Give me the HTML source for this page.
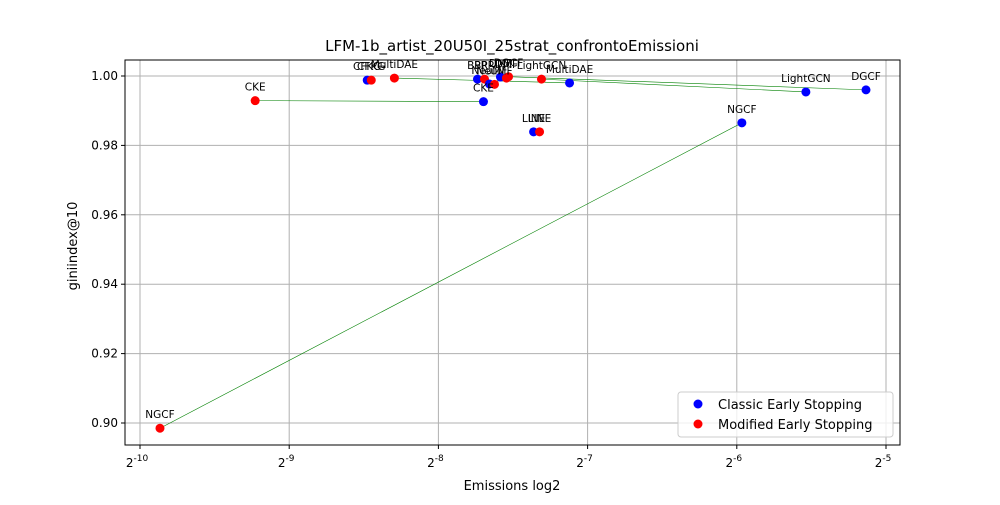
<!DOCTYPE html>
<html><head><meta charset="utf-8"><style>
body{margin:0;background:#fff;font-family:"Liberation Sans","DejaVu Sans",sans-serif;}
svg text{font-family:"DejaVu Sans","Liberation Sans",sans-serif;}
</style></head><body>
<svg id="chart" width="1000" height="500">
<rect width="1000" height="500" fill="#fff"/>
<text x="512" y="51" text-anchor="middle" font-size="15">LFM-1b_artist_20U50I_25strat_confrontoEmissioni</text>
<g id="grid"></g><g id="lines"></g><g id="pts"></g><g id="labels"></g><g id="ticks"></g>
<rect x="125" y="60" width="775" height="385" fill="none" stroke="#000" stroke-width="1"/>
<text x="512" y="490" text-anchor="middle" font-size="13">Emissions log2</text>
<text x="77" y="246" text-anchor="middle" font-size="13" transform="rotate(-90 77 246)">giniindex@10</text>
<g>
<rect x="678" y="392" width="215" height="45" rx="3" fill="#fff" fill-opacity="0.8" stroke="#ccc"/>
<g><circle cx="698" cy="404" r="4.5" fill="blue"/><text x="718" y="409" font-size="13">Classic Early Stopping</text></g>
<g><circle cx="698" cy="424" r="4.5" fill="red"/><text x="718" y="429" font-size="13">Modified Early Stopping</text></g>
</g>
</svg>
<script>
const models=["CFKG","CKE","LINE","MultiDAE","NGCF","LightGCN","DGCF","BPR","NeuMF","DMF"];
const classicX=[-8.477,-7.698,-7.362,-7.121,-5.966,-5.537,-5.134,-7.738,-7.658,-7.584];
const classicY=[0.9988,0.9926,0.9839,0.9980,0.9865,0.9954,0.9960,0.9991,0.9977,0.9997];
const modX=[-8.450,-9.228,-7.322,-8.295,-9.866,-7.309,-7.530,-7.691,-7.624,-7.544];
const modY=[0.9988,0.9929,0.9839,0.9994,0.8985,0.9991,0.9998,0.9991,0.9976,0.9994];
const xTicks=[-10,-9,-8,-7,-6,-5];
const yTicks=[0.90,0.92,0.94,0.96,0.98,1.00];
const NS="http://www.w3.org/2000/svg";
const sx=v=>140+(v+10)*149.2;
const sy=v=>76+(1-v)*3470;
function mk(p,t,a){const e=document.createElementNS(NS,t);for(const k in a)e.setAttribute(k,a[k]);document.getElementById(p).appendChild(e);return e;}
xTicks.forEach(t=>{
 const g=mk("grid","line",{x1:sx(t),x2:sx(t),y1:60,y2:445,stroke:"#b0b0b0","stroke-width":1});
 
 
 mk("ticks","line",{x1:sx(t),x2:sx(t),y1:445,y2:449,stroke:"#000"});
 const tx=mk("ticks","text",{x:sx(t)-3,y:467,"text-anchor":"middle","font-size":"12"});
 tx.innerHTML="2<tspan dy='-6' font-size='9'>"+t+"</tspan>";
 
 
});
yTicks.forEach(t=>{
 const g=mk("grid","line",{x1:125,x2:900,y1:sy(t),y2:sy(t),stroke:"#b0b0b0","stroke-width":1});
 
 
 mk("ticks","line",{x1:121,x2:125,y1:sy(t),y2:sy(t),stroke:"#000"});
 const tx=mk("ticks","text",{x:118,y:sy(t)+4,"text-anchor":"end","font-size":"12"});
 tx.textContent=t.toFixed(2);
 
 
});
models.forEach((m,i)=>{
 const l=mk("lines","line",{x1:sx(modX[i]),y1:sy(modY[i]),x2:sx(classicX[i]),y2:sy(classicY[i]),stroke:"green","stroke-width":0.6});
 
 
 const b=mk("pts","circle",{cx:sx(classicX[i]),cy:sy(classicY[i]),r:4.5,fill:"blue"});
 
 
 const r=mk("pts","circle",{cx:sx(modX[i]),cy:sy(modY[i]),r:4.5,fill:"red"});
 
 
 [[classicX[i],classicY[i]],[modX[i],modY[i]]].forEach(p=>{
  const t=mk("labels","text",{x:sx(p[0]),y:sy(p[1])-10,"text-anchor":"middle","font-size":"10.5"});
  t.textContent=m;
  
  
 });
});
</script>
</body></html>
